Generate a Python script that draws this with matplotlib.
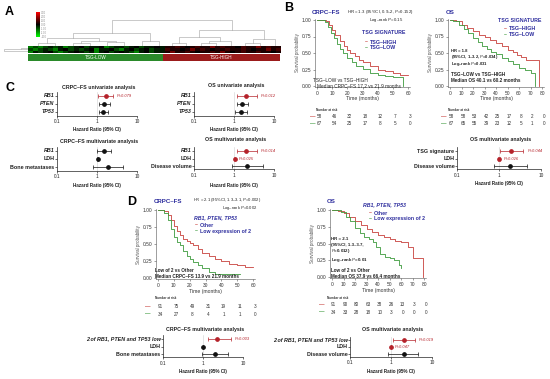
import numpy as np
import matplotlib
matplotlib.use('Agg')
import matplotlib.pyplot as plt
from matplotlib.colors import LinearSegmentedColormap
from matplotlib.transforms import blended_transform_factory

W, H = 550, 379
plt.rcParams['font.family'] = ['Liberation Sans', 'DejaVu Sans']
plt.rcParams['mathtext.fontset'] = 'custom'
plt.rcParams['mathtext.it'] = 'Liberation Sans:italic'
plt.rcParams['mathtext.rm'] = 'Liberation Sans'

RED = '#c8403c'
GREEN = '#3c9a3c'
DRED = '#b5222a'
BLUE = '#2e2e9e'
TXT = '#222222'

# ---------------- data ----------------
# A: heatmap (3 genes x 50 patient columns, coded levels), clusters
hm_low = ["GgGgdgdGgd.gdd.Ggddgd.gdd.d",
          "gGgdgGd.gdgd.Gdd.gGd.gd.gdd",
          "Gdgd.gGgd.dgdGd.gd.dgGd.gdd"]
hm_high = ["kkrk.krkkRkrkk.rkkRkrkk",
           "rkk.kRkrk.kkrkkrk.kkRkr",
           "kRkkrk.kkrkRk.krkkrkk.k"]
levels = {'G': -1.5, 'g': -0.8, 'd': -0.3, '.': 0.0, 'k': 0.35, 'r': 0.75, 'R': 1.3}
groups = ['TSG-LOW', 'TSG-HIGH']
group_n = [67, 58]
col_tree = ((((0, 1, 0.12), ((2, 3, 0.1), (4, 5, 0.15), 0.2), 0.3), (6, 7, 0.18), 0.5),
            (((8, 9, 0.1), ((10, 11, 0.12), 12, 0.2), 0.35), ((13, 14, 0.1), 15, 0.25), 0.62),
            1.0)
row_tree = ((0, 1, 0.3), 2, 1.0)
cbar_ticks = [-3, -2, -1, 0, 1, 2, 3]

# B: Kaplan-Meier, TSG signature
b_crpc_high_t = [0, 6, 8, 10, 12, 15, 18, 20, 22, 25, 28, 30, 35, 40, 45, 50, 55, 60]
b_crpc_high_s = [1, 0.98, 0.93, 0.85, 0.78, 0.68, 0.6, 0.55, 0.5, 0.45, 0.4, 0.37, 0.3, 0.25, 0.22, 0.19, 0.17, 0.17]
b_crpc_low_t = [0, 5, 7, 9, 11, 13, 15, 17, 20, 23, 26, 30, 35, 40, 45, 50, 57]
b_crpc_low_s = [1, 0.97, 0.9, 0.8, 0.72, 0.63, 0.56, 0.5, 0.42, 0.36, 0.31, 0.26, 0.2, 0.17, 0.15, 0.14, 0.0]
b_os_high_t = [0, 5, 10, 15, 20, 25, 30, 35, 40, 45, 50, 55, 58, 62, 66, 77]
b_os_high_s = [1, 0.98, 0.93, 0.88, 0.83, 0.78, 0.74, 0.70, 0.65, 0.6, 0.55, 0.52, 0.47, 0.44, 0.40, 0.0]
b_os_low_t = [0, 3, 8, 12, 16, 20, 24, 28, 32, 36, 40, 45, 50, 55, 60, 65, 70, 74]
b_os_low_s = [1, 0.98, 0.93, 0.87, 0.8, 0.73, 0.66, 0.6, 0.56, 0.52, 0.48, 0.42, 0.38, 0.33, 0.28, 0.24, 0.2, 0.0]
b_crpc_risk = [[58, 46, 32, 18, 12, 7, 3], [67, 54, 25, 17, 8, 5, 0]]
b_os_risk = [[58, 58, 53, 42, 25, 17, 8, 2, 0], [67, 65, 55, 39, 23, 12, 5, 1, 0]]

# D: Kaplan-Meier, RB1/PTEN/TP53
d_crpc_oth_t = [0, 4, 6, 8, 10, 12, 14, 16, 18, 20, 22, 25, 28, 32, 36, 40, 45, 50, 55, 60]
d_crpc_oth_s = [1, 0.98, 0.92, 0.85, 0.76, 0.69, 0.63, 0.58, 0.55, 0.52, 0.49, 0.42, 0.37, 0.32, 0.28, 0.25, 0.21, 0.19, 0.16, 0.16]
d_crpc_low_t = [0, 4, 6, 8, 10, 12, 14, 16, 18, 20, 22, 25, 28, 32, 36, 40, 52]
d_crpc_low_s = [1, 0.95, 0.85, 0.72, 0.6, 0.53, 0.49, 0.4, 0.33, 0.28, 0.23, 0.19, 0.15, 0.09, 0.06, 0.06, 0.06]
d_os_oth_t = [0, 5, 10, 15, 20, 25, 30, 35, 40, 45, 50, 55, 60, 66, 70, 79]
d_os_oth_s = [1, 0.99, 0.96, 0.9, 0.84, 0.77, 0.71, 0.67, 0.63, 0.59, 0.56, 0.54, 0.52, 0.45, 0.28, 0.0]
d_os_low_t = [0, 8, 12, 16, 20, 24, 28, 32, 36, 38, 42, 46, 50, 54, 58, 60]
d_os_low_s = [1, 0.97, 0.9, 0.83, 0.73, 0.65, 0.6, 0.56, 0.52, 0.45, 0.35, 0.3, 0.28, 0.25, 0.18, 0.14]
d_crpc_risk = [[91, 75, 49, 31, 19, 11, 3], [34, 27, 8, 4, 1, 1, 0]]
d_os_risk = [[91, 90, 80, 63, 38, 26, 13, 3, 0], [34, 33, 28, 18, 10, 3, 0, 0, 0]]

# forest plots: labels, HR, lower, upper, p
c_crpc_uni = (['RB1', 'PTEN', 'TP53'], [1.65, 1.5, 1.44], [1.04, 1.12, 1.12], [2.5, 2.1, 1.93], ['P=0.079', '', ''])
c_os_uni = (['RB1', 'PTEN', 'TP53'], [1.96, 1.61, 1.47], [1.21, 1.21, 1.06], [3.7, 2.2, 2.07], ['P=0.012', '', ''])
c_crpc_multi = (['RB1', 'LDH', 'Bone metastases'], [1.52, 1.03, 1.92], [0.98, 1.0, 0.81], [2.3, 1.06, 4.5], ['', '', ''])
c_os_multi = (['RB1', 'LDH', 'Disease volume'], [1.96, 1.05, 2.07], [1.21, 1.02, 0.87], [3.7, 1.08, 5.4], ['P=0.014', 'P=0.025', ''])
b_os_multi = (['TSG signature', 'LDH', 'Disease volume'], [1.93, 1.0, 1.83], [1.06, 0.97, 0.77], [3.8, 1.03, 4.6], ['P=0.044', 'P=0.026', ''])
d_crpc_multi = (['2 of RB1, PTEN and TP53 low', 'LDH', 'Bone metastases'], [2.2, 1.0, 1.99], [1.35, 0.98, 0.93], [5.0, 1.02, 4.3], ['P=0.003', '', ''])
d_os_multi = (['2 of RB1, PTEN and TP53 low', 'LDH', 'Disease volume'], [2.1, 1.0, 2.07], [1.14, 0.98, 0.86], [3.85, 1.02, 4.65], ['P=0.019', 'P=0.047', ''])

fig = plt.figure(figsize=(5.5, 3.79), dpi=100)


def rect(x0, y0, x1, y1):
    return [x0 / W, 1 - y1 / H, (x1 - x0) / W, (y1 - y0) / H]


def fx(x):
    return x / W


def fy(y):
    return 1 - y / H


def ftext(x, y, s, **kw):
    kw.setdefault('va', 'center')
    kw.setdefault('color', TXT)
    return fig.text(fx(x), fy(y), s, **kw)


# ---------------- panel A ----------------
def draw_tree(ax, node, pos, horizontal=False):
    if isinstance(node, int):
        return pos[node], 0.0
    l, r, h = node
    xl, hl = draw_tree(ax, l, pos, horizontal)
    xr, hr_ = draw_tree(ax, r, pos, horizontal)
    if horizontal:
        ax.plot([hl, h, h, hr_], [xl, xl, xr, xr], color='#a0a0a0', lw=0.4)
    else:
        ax.plot([xl, xl, xr, xr], [hl, h, h, hr_], color='#a0a0a0', lw=0.4)
    return (xl + xr) / 2, h


hm = np.array([[levels[c] for c in lo + hi] for lo, hi in zip(hm_low, hm_high)])
ncol = hm.shape[1]
cmap = LinearSegmentedColormap.from_list('gkr', ['#00ff00', '#000000', '#ff0000'])

ax_hm = fig.add_axes(rect(28, 46, 280, 53))
im = ax_hm.imshow(hm, aspect='auto', cmap=cmap, vmin=-3, vmax=3, interpolation='nearest')
ax_hm.axis('off')

ax_dn = fig.add_axes(rect(28, 19, 280, 46))
nlow = len(hm_low[0])
leafx = list(np.linspace(1.5, nlow - 1.5, 8)) + list(np.linspace(nlow + 1, ncol - 1.5, 8))
draw_tree(ax_dn, col_tree, leafx)
ax_dn.set_xlim(-0.5, ncol - 0.5)
ax_dn.set_ylim(0, 1.03)
ax_dn.axis('off')

ax_rd = fig.add_axes(rect(3, 47, 28, 52))
draw_tree(ax_rd, row_tree, [0, 1, 2], horizontal=True)
ax_rd.set_xlim(1.05, 0)
ax_rd.set_ylim(2.5, -0.5)
ax_rd.axis('off')

ax_cb = fig.add_axes(rect(36, 12, 39.5, 37))
cb = fig.colorbar(im, cax=ax_cb, ticks=cbar_ticks)
cb.outline.set_visible(False)
cb.ax.set_yticklabels(['%.2f' % v for v in cbar_ticks])
cb.ax.tick_params(labelsize=1.8, length=0, pad=1, labelcolor='#888888')

ax_gr = fig.add_axes(rect(28, 54, 280, 61))
ax_gr.barh(0, group_n[0], left=0, height=1, color='#2a8a2a')
ax_gr.barh(0, group_n[1], left=group_n[0], height=1, color='#9b1b1b')
ax_gr.text(group_n[0] / 2, 0, groups[0], color='white', ha='center', va='center', fontsize=3.3)
ax_gr.text(group_n[0] + group_n[1] / 2, 0, groups[1], color='white', ha='center', va='center', fontsize=3.3)
ax_gr.set_xlim(0, sum(group_n))
ax_gr.set_ylim(-0.5, 0.5)
ax_gr.axis('off')


# ---------------- KM helpers ----------------
def km_axes(px0, px1, tmax, py1, py0):
    sx = (px1 - px0) / tmax
    sy = py0 - py1
    xl = (-0.025 * tmax, 1.025 * tmax)
    yl = (-0.02, 1.02)
    ax = fig.add_axes(rect(px0 + xl[0] * sx, py0 - yl[1] * sy, px0 + xl[1] * sx, py0 - yl[0] * sy))
    ax.set_xlim(xl)
    ax.set_ylim(yl)
    for s in ['top', 'right']:
        ax.spines[s].set_visible(False)
    for s in ['left', 'bottom']:
        ax.spines[s].set_linewidth(0.4)
        ax.spines[s].set_color('#555555')
    ax.set_xticks(range(0, tmax + 1, 10))
    ax.set_yticks([0, 0.25, 0.5, 0.75, 1.0], ['0.00', '0.25', '0.50', '0.75', '1.00'])
    ax.tick_params(labelsize=3.5, length=1.5, width=0.4, pad=1, colors='#555555', labelcolor='#333333')
    ax.set_xlabel('Time (months)', fontsize=3.7, labelpad=0.5, color='#333333')
    ax.set_ylabel('Survival probability', fontsize=3.3, labelpad=1, color='#555555')
    return ax


def at_risk(ax, rows, y_label, y_rows, x_label, x_dash):
    tr = blended_transform_factory(ax.transData, fig.transFigure)
    ftext(x_label, y_label, 'Number at risk', fontsize=2.2, fontweight='bold', color='#333333')
    for vals, col, y in zip(rows, [RED, GREEN], y_rows):
        ftext(x_dash, y, '\u2014', color=col, fontsize=4, ha='center', fontweight='bold')
        for i, v in enumerate(vals):
            ax.text(i * 10 + 1.5, fy(y), str(v), transform=tr, ha='center', va='center',
                    fontsize=3.3, color='#333333')


def legend(x, y0, dy, labels):
    for i, (lab, col) in enumerate(zip(labels, [RED, GREEN])):
        ftext(x, y0 + i * dy, '\u2013', color=col, fontsize=3.8, fontweight='bold', ha='center')
        ftext(x + 4, y0 + i * dy, lab, color=BLUE, fontsize=3.8, fontweight='bold')


# ---------------- panel B ----------------
ax = km_axes(317, 408, 60, 20, 86)
ax.step(b_crpc_high_t, b_crpc_high_s, where='post', color=RED, lw=0.6)
ax.step(b_crpc_low_t, b_crpc_low_s, where='post', color=GREEN, lw=0.6)
at_risk(ax, b_crpc_risk, 110, [117, 124], 316, 313)
ftext(312, 12, 'CRPC\u2013FS', color=BLUE, fontsize=4.4, fontweight='bold')
ftext(347, 12, 'HR = 1.3 (95%CI, 0.9\u20132, $P$=0.152)', fontsize=3.1)
ftext(369, 19.5, 'Log\u2013rank $P$=0.15', fontsize=3.1)
ftext(362, 33, 'TSG SIGNATURE', color=BLUE, fontsize=3.8, fontweight='bold')
legend(366, 42, 5.5, ['TSG\u2013HIGH', 'TSG\u2013LOW'])
ftext(313, 81, 'TSG\u2013LOW vs TSG\u2013HIGH', fontsize=3.4)
ftext(317, 86, 'Median CRPC\u2013FS 17.2 vs 21.9 months', fontsize=3.4)

ax = km_axes(450, 542, 80, 20, 86)
ax.step(b_os_high_t, b_os_high_s, where='post', color=RED, lw=0.6)
ax.step(b_os_low_t, b_os_low_s, where='post', color=GREEN, lw=0.6)
at_risk(ax, b_os_risk, 110, [117, 124], 448, 444)
ftext(446, 12, 'OS', color=BLUE, fontsize=4.4, fontweight='bold')
ftext(498, 21, 'TSG SIGNATURE', color=BLUE, fontsize=3.8, fontweight='bold')
legend(505, 29, 5.5, ['TSG\u2013HIGH', 'TSG\u2013LOW'])
for yy, s in zip([50.5, 57, 64], ['HR = 1.8', '(95%CI, 1\u20133.2, $P$=0.034)', 'Log\u2013rank $P$=0.031']):
    ftext(451, yy, s, fontsize=3.0, fontweight='bold')
ftext(451, 75, 'TSG\u2013LOW vs TSG\u2013HIGH', fontsize=3.3, fontweight='bold')
ftext(451, 81, 'Median OS 40.1 vs 60.2 months', fontsize=3.3, fontweight='bold')


# ---------------- forest helper ----------------
def forest(p01, p10, ytop, ybot, title, title_y, hz_y, data, italic):
    labels, hr, lo, hi, pv = data
    n = len(labels)
    sy = (ybot - ytop) / (n - 1)
    ax = fig.add_axes(rect(p01, ytop - 0.5 * sy, p10, ybot + 0.45 * sy))
    ax.set_xscale('log')
    ax.set_xlim(0.1, 10)
    ax.set_ylim(1 - 0.45, n + 0.5)
    for s in ['top', 'right']:
        ax.spines[s].set_visible(False)
    for s in ['left', 'bottom']:
        ax.spines[s].set_linewidth(0.5)
        ax.spines[s].set_color('#222222')
    ax.set_xticks([0.1, 1, 10], ['0.1', '1', '10'])
    ax.minorticks_off()
    ys = list(range(n, 0, -1))
    ax.set_yticks(ys, [''] * n)
    ax.tick_params(labelsize=3.4, length=1.3, width=0.4, pad=1, labelcolor='#222222')
    ax.axvline(1, color='#d0d0d0', lw=0.4, zorder=0)
    tr = blended_transform_factory(ax.transAxes, ax.transData)
    for i in range(n):
        col = DRED if pv[i] else '#111111'
        ax.errorbar(hr[i], ys[i], xerr=[[hr[i] - lo[i]], [hi[i] - hr[i]]], fmt='o', ms=2.4,
                    color=col, elinewidth=0.5, capsize=1.3, capthick=0.5, clip_on=False)
        ax.text(-0.03, ys[i], labels[i], transform=tr, ha='right', va='center', fontsize=3.9,
                fontweight='bold', fontstyle='italic' if italic[i] else 'normal', color='#222222')
        if pv[i]:
            ax.text(hi[i] * 1.25, ys[i], pv[i], ha='left', va='center', fontsize=2.9,
                    fontstyle='italic', color=DRED)
    ftext((p01 + p10) / 2 + 2, title_y, title, ha='center', fontsize=3.8, fontweight='bold')
    ftext((p01 + p10) / 2, hz_y, 'Hazard Ratio (95% CI)', ha='center', fontsize=3.3, fontweight='bold')
    return ax


# ---------------- panel C ----------------
forest(57, 137, 96, 112, 'CRPC\u2013FS univariate analysis', 87, 130, c_crpc_uni, [True, True, True])
forest(194, 274, 96, 112, 'OS univariate analysis', 86, 130, c_os_uni, [True, True, True])
forest(57, 137, 151, 167, 'CRPC\u2013FS multivariate analysis', 142, 185, c_crpc_multi, [True, False, False])
forest(194, 274, 151, 166, 'OS multivariate analysis', 140, 185, c_os_multi, [True, False, False])
forest(457, 541, 151, 166, 'OS multivariate analysis', 140, 183, b_os_multi, [False, False, False])

# ---------------- panel D ----------------
ax = km_axes(158, 253, 60, 210, 278)
ax.step(d_crpc_oth_t, d_crpc_oth_s, where='post', color=RED, lw=0.6)
ax.step(d_crpc_low_t, d_crpc_low_s, where='post', color=GREEN, lw=0.6)
at_risk(ax, d_crpc_risk, 298, [307, 314], 155, 148)
ftext(154, 201, 'CRPC\u2013FS', color=BLUE, fontsize=4.4, fontweight='bold')
ftext(193, 200.5, 'HR = 2.1 (95%CI, 1.3\u20133.1, $P$=0.002)', fontsize=3.0)
ftext(222, 207.5, 'Log\u2013rank $P$=0.002', fontsize=3.0)
ftext(194, 218, 'RB1, PTEN, TP53', color=BLUE, fontsize=3.8, fontweight='bold', fontstyle='italic')
legend(196, 225, 6, ['Other', 'Low expression of 2'])
ftext(155, 270, 'Low of 2 vs Other', fontsize=3.3, fontweight='bold')
ftext(155, 277, 'Median CRPC\u2013FS 13.9 vs 21.9 months', fontsize=3.3, fontweight='bold')

ax = km_axes(332, 424, 80, 210, 277)
ax.step(d_os_oth_t, d_os_oth_s, where='post', color=RED, lw=0.6)
ax.step(d_os_low_t, d_os_low_s, where='post', color=GREEN, lw=0.6)
at_risk(ax, d_os_risk, 298, [305, 312], 327, 322)
ftext(327, 201, 'OS', color=BLUE, fontsize=4.4, fontweight='bold')
ftext(363, 205, 'RB1, PTEN, TP53', color=BLUE, fontsize=3.8, fontweight='bold', fontstyle='italic')
legend(370, 213, 5.5, ['Other', 'Low expression of 2'])
for yy, s in zip([239, 245, 251, 260], ['HR = 2.1', '(95%CI, 1.3\u20133.7,', '$P$=0.012)', 'Log\u2013rank $P$=0.01']):
    ftext(331, yy, s, fontsize=3.2, fontweight='bold')
ftext(331, 270, 'Low of 2 vs Other', fontsize=3.3, fontweight='bold')
ftext(331, 276, 'Median OS 37.9 vs 66.4 months', fontsize=3.3, fontweight='bold')

forest(163, 243, 339, 354, 'CRPC\u2013FS multivariate analysis', 329, 371, d_crpc_multi, [True, False, False])
forest(350, 432, 340, 354, 'OS multivariate analysis', 329, 371, d_os_multi, [True, False, False])

# panel letters
for x, y, s in [(5, 12, 'A'), (284, 8, 'B'), (5, 88, 'C'), (127, 202, 'D')]:
    ftext(x, y, s, fontsize=9, fontweight='bold', color='black')

fig.savefig('out.png', dpi=100)
